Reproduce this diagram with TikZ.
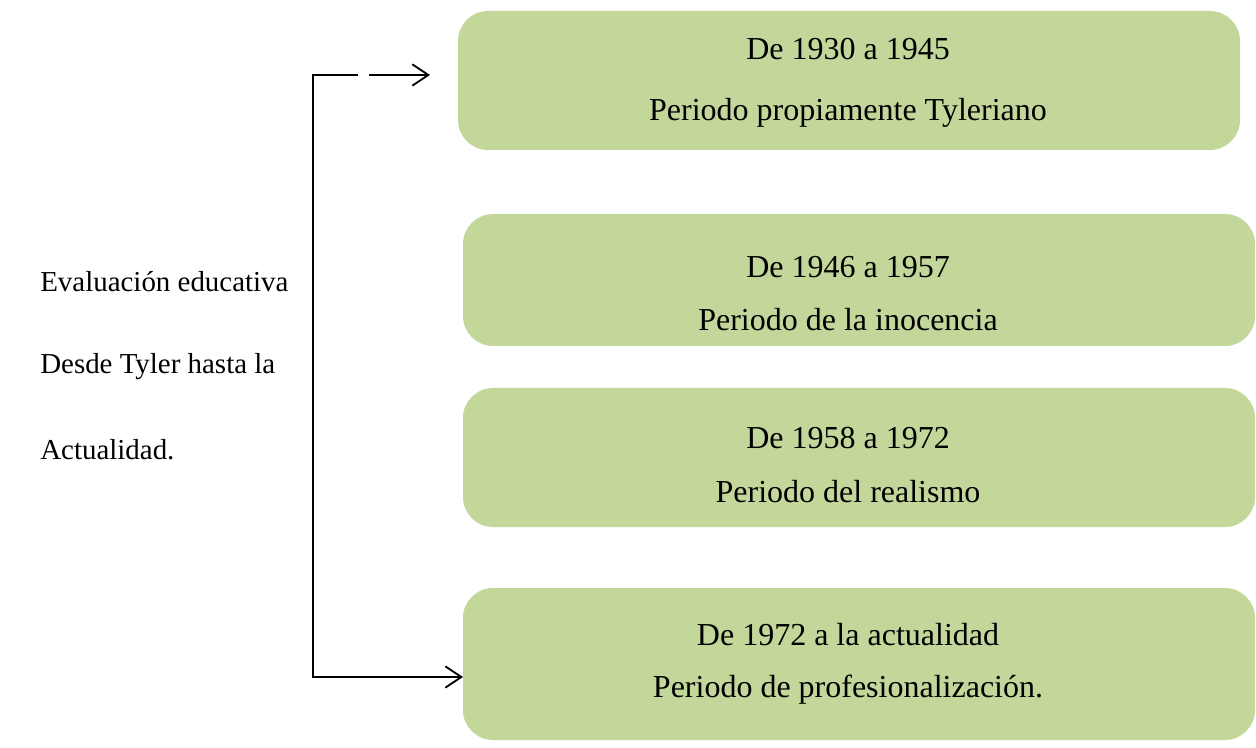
\documentclass[tikz,border=0pt]{standalone}
\usepackage{fontspec}
\setmainfont{Liberation Serif}
\usetikzlibrary{arrows.meta}
\definecolor{boxgreen}{HTML}{C4D79B}
\tikzset{
  gbox/.style={fill=boxgreen, draw=none, rounded corners=22.5pt},
  lbl/.style={font=\fontsize{24}{26}\selectfont, anchor=center, inner sep=0pt},
  side/.style={font=\fontsize{21.7}{24}\selectfont, anchor=west, inner sep=0pt},
  conn/.style={line width=1.4pt, black},
  tip/.style={-{Straight Barb[length=12pt,width=16pt,line width=1.4pt]}}
}
\begin{document}
\begin{tikzpicture}[x=0.75pt,y=-0.75pt]
\useasboundingbox (0,0) rectangle (1256,748);
% boxes
\path[gbox] (458,11) rectangle (1240,150); \coordinate (b1) at (458,75);
\path[gbox] (463,214) rectangle (1255,346);
\path[gbox] (463,388) rectangle (1255,527);
\path[gbox] (463,588) rectangle (1255,740); \coordinate (b4) at (463,677);
% box texts
\node[lbl] (t1a) at (848,49) {De 1930 a 1945};
\node[lbl] (t1b) at (848,113) {Periodo propiamente Tyleriano};
\node[lbl] (t2a) at (848,267) {De 1946 a 1957};
\node[lbl] (t2b) at (848,320) {Periodo de la inocencia};
\node[lbl] (t3a) at (848,438) {De 1958 a 1972};
\node[lbl] (t3b) at (848,492) {Periodo del realismo};
\node[lbl] (t4a) at (848,635) {De 1972 a la actualidad};
\node[lbl] (t4b) at (848,690) {Periodo de profesionalización.};
% left text
\node[side] (l1) at (40,282) {Evaluación educativa};
\node[side] (l2) at (40,367) {Desde Tyler hasta la};
\node[side] (l3) at (40,450) {Actualidad.};
% connectors
\coordinate (top) at (313,75);
\coordinate (bot) at (313,677);
\coordinate (gapA) at (358,75);
\coordinate (gapB) at (369,75);
\coordinate (a1) at (430,75);
\draw[conn] (gapA) -- (top) -- (bot) -- (b4) [tip];
\draw[conn, tip] (gapB) -- (a1);
\end{tikzpicture}
\end{document}
